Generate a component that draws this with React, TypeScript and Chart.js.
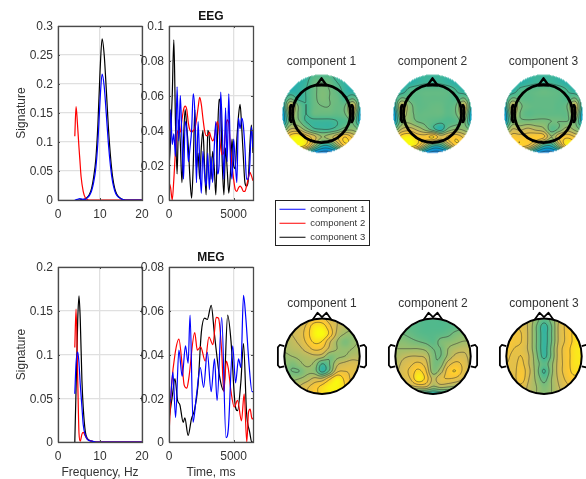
import React, { useEffect, useRef } from "react";
import { Chart, registerables } from "chart.js";

Chart.register(...registerables);

const FONT = "'Liberation Sans', Arial, sans-serif";
const TEXT = "#333333";
const componentNames = ["component 1", "component 2", "component 3"];
const lineColors = ["#0000ff", "#ff0000", "#000000"];

const freqEegHz = [4, 4.3, 4.6, 5, 5.2, 5.5, 6, 6.5, 7, 7.5, 8, 8.5, 9, 9.5, 10, 10.5, 11, 11.5, 12, 12.5, 13, 13.5, 14, 15, 16, 18, 20];
const eegFreqBlue = [0, 0.0005, 0.001, 0.002, 0.0025, 0.002, 0.001, 0.001, 0.004, 0.008, 0.016, 0.031, 0.055, 0.1, 0.17, 0.217, 0.196, 0.148, 0.097, 0.058, 0.031, 0.016, 0.008, 0.002, 0, 0, 0];
const eegFreqRed = [0.11, 0.161, 0.135, 0.09, 0.07, 0.04, 0.015, 0.004, 0.001, 0, 0, 0, 0, 0, 0, 0, 0, 0, 0, 0, 0, 0, 0, 0, 0, 0, 0];
const eegFreqBlack = [null, null, 0, 0, 0, 0.0005, 0.001, 0.002, 0.005, 0.01, 0.02, 0.04, 0.07, 0.13, 0.22, 0.278, 0.25, 0.19, 0.125, 0.075, 0.04, 0.02, 0.01, 0.002, 0, 0, 0];

const freqMegHz = [4, 4.3, 4.7, 5, 5.3, 5.7, 6, 6.5, 7, 8, 9, 10, 20];
const megFreqBlue = [0.055, 0.09, 0.103, 0.09, 0.066, 0.04, 0.02, 0.008, 0.003, 0.001, 0, 0, 0];
const megFreqRed = [0.108, 0.152, 0.07, 0.01, 0.001, 0.009, 0.011, 0.007, 0.003, 0.001, 0, 0, 0];
const megFreqBlack = [0, 0.06, 0.14, 0.167, 0.14, 0.07, 0.04, 0.012, 0.004, 0.001, 0, 0, 0];

const eegTimeMs = [0, 125, 250, 375, 500, 625, 750, 875, 1000, 1125, 1250, 1375, 1500, 1625, 1750, 1875, 2000, 2125, 2250, 2375, 2500, 2625, 2750, 2875, 3000, 3125, 3250, 3375, 3500, 3625, 3750, 3875, 4000, 4125, 4250, 4375, 4500, 4625, 4750, 4875, 5000, 5125, 5250, 5375, 5500, 5625, 5750, 5875, 6000, 6125, 6250, 6375, 6500];
const eegTimeBlue = [0.012, 0.052, 0.032, 0.038, 0.025, 0.065, 0.034, 0.06, 0.035, 0.012, 0.045, 0.04, 0.022, 0.03, 0.04, 0.061, 0.05, 0.01, 0.045, 0.022, 0.004, 0.028, 0.015, 0.008, 0.027, 0.006, 0.025, 0.01, 0.03, 0.045, 0.015, 0.02, 0.062, 0.04, 0.012, 0.053, 0.022, 0.061, 0.025, 0.012, 0.035, 0.022, 0.01, 0.047, 0.041, 0.047, 0.043, 0.03, 0.012, 0.012, 0.02, 0.042, 0.03];
const eegTimeRed = [0.01, 0.007, 0, 0.012, 0.028, 0.038, 0.04, 0.039, 0.046, 0.052, 0.054, 0.052, 0.044, 0.04, 0.039, 0.04, 0.041, 0.046, 0.053, 0.059, 0.055, 0.047, 0.04, 0.037, 0.037, 0.039, 0.036, 0.034, 0.036, 0.042, 0.045, 0.04, 0.03, 0.026, 0.028, 0.04, 0.046, 0.044, 0.03, 0.02, 0.012, 0.006, 0.005, 0.007, 0.008, 0.007, 0.005, 0.005, 0.008, 0.012, 0.016, 0.014, 0.011];
const eegTimeBlack = [0.018, 0.035, 0.06, 0.092, 0.045, 0.015, 0.046, 0.033, 0.01, 0.035, 0.052, 0.042, 0.03, 0.012, 0.001, 0.02, 0.052, 0.018, 0.027, 0.012, 0.03, 0.04, 0.02, 0.003, 0.04, 0.035, 0.012, 0.028, 0.019, 0.003, 0.035, 0.058, 0.052, 0.02, 0.003, 0.03, 0.018, 0.004, 0.015, 0.035, 0.02, 0.018, 0.035, 0.048, 0.055, 0.042, 0.025, 0.01, 0.008, 0.011, 0.03, 0.043, 0.027];

const megBlueMs = [0, 125, 300, 510, 765, 1020, 1275, 1480, 1630, 1860, 2120, 2420, 2680, 2960, 3265, 3520, 3720, 4080, 4410, 4590, 4930, 5150, 5380, 5560, 5765, 5940, 6200, 6430, 6500];
const megBlue = [0.017, 0.02, 0.032, 0.0112, 0.042, 0.03, 0.044, 0.036, 0.058, 0.009, 0.021, 0.034, 0.025, 0.041, 0.023, 0.038, 0.019, 0.057, 0.002, 0.006, 0.044, 0.027, 0.038, 0.034, 0.067, 0.057, 0.035, 0.023, 0.023];
const megRedMs = [0, 200, 460, 765, 1020, 1175, 1380, 1530, 1990, 2190, 2450, 2800, 3090, 3400, 3650, 3830, 4080, 4235, 4440, 4590, 4800, 5050, 5300, 5610, 5815, 6020, 6150, 6275, 6430, 6500];
const megRed = [0.0035, 0.026, 0.04, 0.047, 0.035, 0.026, 0.0246, 0.029, 0.05, 0.042, 0.0435, 0.037, 0.048, 0.0445, 0.057, 0.0566, 0.041, 0.023, 0.037, 0.0335, 0.023, 0.016, 0.019, 0.0097, 0.022, 0, 0.0135, 0.015, 0.0105, 0.011];
const megBlackMs = [0, 255, 460, 663, 840, 1100, 1225, 1480, 1735, 1990, 2245, 2500, 2755, 2960, 3265, 3520, 3900, 4235, 4540, 4800, 5100, 5300, 5560, 5765, 6000, 6250, 6400, 6500];
const megBlack = [0.0105, 0.021, 0.029, 0.019, 0.017, 0.009, 0.011, 0.003, 0.0105, 0.015, 0.026, 0.05, 0.0566, 0.056, 0.0625, 0.049, 0.0305, 0.0235, 0.058, 0.046, 0.018, 0.0143, 0.0274, 0.045, 0.0135, 0.0043, 0, 0];

const freqTicksX = [0, 10, 20];
const timeTicksX = [0, 5000];
const eegFreqTicksY = [0, 0.05, 0.1, 0.15, 0.2, 0.25, 0.3];
const eegTimeTicksY = [0, 0.02, 0.04, 0.06, 0.08, 0.1];
const megFreqTicksY = [0, 0.05, 0.1, 0.15, 0.2];
const megTimeTicksY = [0, 0.02, 0.04, 0.06, 0.08];

// Scalp fields, percent of the colour range; rows run front to back, columns left to right.
const eegMap1 = [
  [45, 45, 45, 46, 52, 52, 52, 46, 45, 45, 45],
  [44, 44, 45, 48, 56, 58, 56, 50, 46, 44, 44],
  [44, 44, 46, 50, 56, 60, 58, 54, 47, 44, 44],
  [44, 56, 48, 50, 56, 60, 58, 56, 50, 56, 44],
  [42, 76, 58, 50, 56, 58, 58, 56, 58, 76, 42],
  [34, 70, 58, 50, 56, 56, 56, 55, 58, 70, 34],
  [38, 62, 60, 50, 48, 48, 48, 50, 52, 58, 38],
  [55, 74, 74, 62, 52, 50, 50, 54, 62, 64, 55],
  [75, 94, 100, 88, 78, 66, 70, 80, 90, 80, 72],
  [80, 96, 100, 90, 66, 46, 46, 66, 86, 84, 75],
  [60, 65, 60, 50, 30, 24, 24, 30, 50, 60, 60],
];
const eegMap2 = [
  [45, 45, 45, 46, 48, 48, 48, 46, 45, 45, 45],
  [45, 45, 45, 47, 49, 49, 49, 47, 45, 45, 45],
  [44, 45, 52, 54, 55, 55, 55, 54, 50, 45, 44],
  [44, 58, 55, 54, 55, 55, 55, 54, 52, 58, 44],
  [42, 76, 62, 55, 55, 56, 56, 54, 58, 76, 42],
  [34, 70, 62, 56, 56, 56, 56, 54, 58, 70, 34],
  [38, 62, 64, 58, 56, 54, 52, 52, 54, 60, 38],
  [55, 74, 78, 72, 64, 54, 46, 60, 66, 64, 55],
  [75, 94, 98, 88, 86, 92, 78, 84, 88, 80, 72],
  [80, 96, 98, 90, 68, 48, 48, 68, 86, 84, 75],
  [60, 65, 60, 50, 30, 24, 24, 30, 50, 60, 60],
];
const eegMap3 = [
  [45, 45, 45, 46, 48, 48, 48, 46, 45, 45, 45],
  [45, 45, 45, 47, 49, 49, 49, 47, 45, 45, 45],
  [44, 45, 52, 54, 55, 56, 55, 54, 50, 45, 44],
  [44, 58, 55, 54, 55, 55, 55, 54, 52, 58, 44],
  [42, 76, 60, 56, 55, 55, 55, 54, 58, 76, 42],
  [34, 70, 58, 54, 55, 55, 55, 55, 56, 70, 34],
  [38, 62, 60, 60, 60, 60, 58, 58, 58, 60, 38],
  [55, 74, 72, 76, 72, 68, 54, 60, 70, 64, 55],
  [75, 86, 86, 86, 88, 84, 66, 82, 88, 82, 72],
  [78, 86, 88, 84, 68, 48, 46, 70, 96, 88, 75],
  [60, 65, 60, 50, 30, 24, 24, 30, 50, 60, 60],
];
const megMap1 = [
  [72, 72, 72, 78, 84, 84, 78, 74, 72, 72, 72],
  [74, 74, 76, 84, 95, 95, 84, 74, 70, 70, 70],
  [72, 74, 78, 86, 98, 100, 88, 72, 66, 64, 66],
  [70, 72, 76, 84, 92, 90, 76, 66, 60, 64, 66],
  [68, 70, 72, 78, 84, 82, 72, 66, 64, 66, 68],
  [64, 66, 68, 70, 72, 70, 60, 64, 66, 70, 70],
  [64, 60, 64, 68, 64, 50, 58, 72, 76, 78, 76],
  [60, 58, 58, 64, 62, 48, 60, 80, 82, 80, 76],
  [62, 64, 66, 70, 76, 76, 88, 98, 88, 80, 76],
  [68, 70, 74, 80, 86, 92, 98, 98, 90, 82, 76],
  [74, 74, 76, 82, 88, 92, 95, 95, 88, 82, 76],
];
const megMap2 = [
  [56, 54, 53, 53, 52, 52, 52, 53, 53, 54, 56],
  [58, 56, 54, 53, 52, 52, 52, 53, 54, 56, 58],
  [60, 58, 56, 54, 53, 53, 54, 56, 60, 62, 62],
  [62, 62, 60, 58, 56, 54, 60, 62, 64, 66, 66],
  [66, 66, 66, 66, 64, 58, 58, 66, 70, 72, 72],
  [68, 72, 74, 74, 72, 60, 58, 68, 76, 76, 72],
  [70, 76, 80, 84, 78, 60, 62, 78, 84, 80, 72],
  [72, 78, 84, 92, 84, 62, 70, 86, 90, 80, 72],
  [70, 76, 82, 96, 88, 72, 80, 82, 80, 74, 70],
  [66, 70, 72, 76, 76, 66, 70, 68, 66, 66, 66],
  [56, 56, 54, 48, 44, 42, 44, 46, 52, 56, 56],
];
const megMap3 = [
  [76, 80, 80, 72, 62, 54, 62, 74, 84, 88, 88],
  [80, 82, 80, 72, 58, 47, 58, 76, 84, 90, 92],
  [84, 84, 82, 72, 58, 47, 58, 76, 84, 92, 94],
  [88, 84, 82, 72, 58, 47, 58, 76, 84, 92, 96],
  [86, 82, 80, 72, 58, 47, 60, 78, 86, 94, 96],
  [84, 80, 82, 74, 60, 48, 60, 78, 86, 94, 96],
  [82, 80, 84, 74, 62, 54, 64, 78, 86, 94, 94],
  [80, 80, 86, 76, 62, 49, 64, 78, 86, 92, 90],
  [80, 80, 86, 74, 64, 55, 66, 76, 84, 88, 86],
  [78, 78, 80, 72, 66, 60, 66, 74, 80, 84, 82],
  [76, 76, 76, 72, 66, 62, 66, 72, 76, 80, 80],
];

const contourLevels = [26, 34, 42, 50, 58, 66, 74, 82, 90];
const parula: [number, number, number][] = [
  [53, 42, 135], [15, 92, 221], [20, 129, 214], [6, 164, 202], [70, 184, 145],
  [140, 190, 115], [209, 187, 89], [254, 200, 50], [249, 251, 14],
];

function colourOf(v: number) {
  const t = Math.min(1, Math.max(0, v / 100)) * (parula.length - 1);
  const i = Math.min(parula.length - 2, Math.floor(t));
  const f = t - i;
  return parula[i].map((c, k) => c + (parula[i + 1][k] - c) * f);
}

function catmull(a: number, b: number, c: number, d: number, t: number) {
  return b + 0.5 * t * (c - a + t * (2 * a - 5 * b + 4 * c - d + t * (3 * (b - c) + d - a)));
}

function sampleField(m: number[][], x: number, y: number) {
  const n = m.length - 1;
  const cf = Math.min(n - 1e-6, Math.max(0, ((x + 1) / 2) * n));
  const rf = Math.min(n - 1e-6, Math.max(0, ((1 - y) / 2) * n));
  const c = Math.floor(cf);
  const r = Math.floor(rf);
  const rowAt = (ri: number) => {
    const row = m[Math.min(n, Math.max(0, ri))];
    const at = (k: number) => row[Math.min(n, Math.max(0, k))];
    return catmull(at(c - 1), at(c), at(c + 1), at(c + 2), cf - c);
  };
  return catmull(rowAt(r - 1), rowAt(r), rowAt(r + 1), rowAt(r + 2), rf - r);
}

const axesPlugin = {
  id: "matlabBox",
  afterDraw(chart: any) {
    const { ctx, chartArea: a, scales } = chart;
    ctx.save();
    ctx.strokeStyle = "#4a4a4a";
    ctx.lineWidth = 1;
    ctx.beginPath();
    scales.x.ticks.forEach((t: any) => {
      const p = Math.round(scales.x.getPixelForValue(t.value)) + 0.5;
      ctx.moveTo(p, a.bottom);
      ctx.lineTo(p, a.bottom - 2);
      ctx.moveTo(p, a.top);
      ctx.lineTo(p, a.top + 2);
    });
    scales.y.ticks.forEach((t: any) => {
      const p = Math.round(scales.y.getPixelForValue(t.value)) + 0.5;
      ctx.moveTo(a.left, p);
      ctx.lineTo(a.left + 2, p);
      ctx.moveTo(a.right, p);
      ctx.lineTo(a.right - 2, p);
    });
    ctx.stroke();
    ctx.lineWidth = 1.3;
    ctx.strokeRect(a.left + 0.5, a.top + 0.5, a.right - a.left, a.bottom - a.top);
    ctx.restore();
  },
};

function LinePanel(props: any) {
  const ref = useRef<HTMLCanvasElement>(null);
  const { left, top, width, height, series, xMax, xTicks, yMax, yTicks, yTitle, xTitle, title, axisLeft, padTop, axisBottom } = props;
  useEffect(() => {
    const datasets = series.map((s: any, i: number) => ({
      label: componentNames[i],
      data: s.x.map((x: number, k: number) => ({ x, y: s.y[k] })),
      borderColor: lineColors[i],
      borderWidth: 1.2,
      pointRadius: 0,
      cubicInterpolationMode: "monotone",
      fill: false,
    }));
    const chart = new Chart(ref.current as any, {
      type: "line",
      data: { datasets },
      plugins: [axesPlugin],
      options: {
        animation: false,
        responsive: false,
        devicePixelRatio: 1,
        layout: { padding: { top: title ? 0 : padTop, right: props.padRight, left: 0, bottom: 0 }, autoPadding: false },
        plugins: {
          legend: { display: false },
          tooltip: { enabled: false },
          title: title
            ? { display: true, fullSize: false, text: title, color: "#111", font: { family: FONT, size: 12, weight: "bold" }, padding: { top: padTop - 14.4 - 2, bottom: 2 } }
            : { display: false },
        },
        scales: {
          x: {
            type: "linear",
            min: 0,
            max: xMax,
            afterBuildTicks: (s: any) => { s.ticks = xTicks.map((value: number) => ({ value })); },
            afterFit: (s: any) => { s.height = axisBottom; },
            grid: { color: "#e0e0e0", lineWidth: 1.3, drawTicks: false },
            border: { display: false },
            ticks: { color: TEXT, font: { family: FONT, size: 12 }, padding: 7, maxRotation: 0, autoSkip: false, callback: (v: any) => String(v) },
            title: xTitle ? { display: true, text: xTitle, color: TEXT, font: { family: FONT, size: 12 }, padding: { top: 3, bottom: -1 } } : { display: false },
          },
          y: {
            min: 0,
            max: yMax,
            afterBuildTicks: (s: any) => { s.ticks = yTicks.map((value: number) => ({ value })); },
            afterFit: (s: any) => { s.width = axisLeft; },
            grid: { color: "#e0e0e0", lineWidth: 1.3, drawTicks: false },
            border: { display: false },
            ticks: { color: TEXT, font: { family: FONT, size: 12 }, padding: 5, labelOffset: 1, autoSkip: false, callback: (v: any) => String(+Number(v).toFixed(3)) },
            title: yTitle ? { display: true, text: yTitle, color: TEXT, font: { family: FONT, size: 12 }, padding: { top: 14, bottom: 0 } } : { display: false },
          },
        },
      } as any,
    } as any);
    return () => chart.destroy();
  }, []);
  return <canvas ref={ref} width={width} height={height} style={{ position: "absolute", left, top, width, height }} />;
}

function makeFieldPlugin(style: any) {
  return {
    id: "scalpField",
    beforeDatasetsDraw(chart: any) {
      const { ctx, chartArea: a, scales } = chart;
      const { x: sx, y: sy } = scales;
      const cells = chart.data.datasets[0].data;
      const size = Math.round(Math.sqrt(cells.length));
      const matrix: number[][] = [];
      for (let r = 0; r < size; r++) matrix.push(cells.slice(r * size, (r + 1) * size).map((c: any) => c.v));
      const W = Math.ceil(a.right - a.left);
      const H = Math.ceil(a.bottom - a.top);
      const off = document.createElement("canvas");
      off.width = W;
      off.height = H;
      const octx = off.getContext("2d") as CanvasRenderingContext2D;
      const img = octx.createImageData(W, H);
      const grid = new Float32Array((W + 1) * (H + 1));
      for (let j = 0; j <= H; j++) {
        for (let i = 0; i <= W; i++) {
          const dx = sx.getValueForPixel(a.left + i);
          const dy = sy.getValueForPixel(a.top + j);
          const v = sampleField(matrix, dx, dy);
          grid[j * (W + 1) + i] = v;
          if (i < W && j < H) {
            const ex = sx.getValueForPixel(a.left + i + 0.5);
            const ey = sy.getValueForPixel(a.top + j + 0.5);
            const d = Math.hypot(ex, ey);
            if (d <= 1.01) {
              const col = colourOf(v);
              const o = 4 * (j * W + i);
              img.data[o] = col[0];
              img.data[o + 1] = col[1];
              img.data[o + 2] = col[2];
              img.data[o + 3] = d > 0.99 ? 130 : 255;
            }
          }
        }
      }
      octx.putImageData(img, 0, 0);
      ctx.save();
      ctx.drawImage(off, a.left, a.top);
      const cx = sx.getPixelForValue(0);
      const cy = sy.getPixelForValue(0);
      const R = sx.getPixelForValue(1) - cx;
      ctx.beginPath();
      ctx.arc(cx, cy, R, 0, Math.PI * 2);
      ctx.clip();
      ctx.strokeStyle = "rgba(45,45,45,0.7)";
      ctx.lineWidth = 0.7;
      ctx.beginPath();
      const at = (i: number, j: number) => grid[j * (W + 1) + i];
      contourLevels.forEach((lv) => {
        for (let j = 0; j < H; j++) {
          for (let i = 0; i < W; i++) {
            const q = [at(i, j), at(i + 1, j), at(i + 1, j + 1), at(i, j + 1)];
            const corner = [[i, j], [i + 1, j], [i + 1, j + 1], [i, j + 1]];
            const pts: number[][] = [];
            for (let e = 0; e < 4; e++) {
              const p = q[e];
              const n = q[(e + 1) % 4];
              if ((p < lv) !== (n < lv)) {
                const f = (lv - p) / (n - p);
                const c0 = corner[e];
                const c1 = corner[(e + 1) % 4];
                pts.push([a.left + c0[0] + (c1[0] - c0[0]) * f, a.top + c0[1] + (c1[1] - c0[1]) * f]);
              }
            }
            if (pts.length >= 2) {
              ctx.moveTo(pts[0][0], pts[0][1]);
              ctx.lineTo(pts[1][0], pts[1][1]);
            }
            if (pts.length === 4) {
              ctx.moveTo(pts[2][0], pts[2][1]);
              ctx.lineTo(pts[3][0], pts[3][1]);
            }
          }
        }
      });
      ctx.stroke();
      ctx.restore();
    },
    afterDatasetsDraw(chart: any) {
      const { ctx, scales } = chart;
      const { x: sx, y: sy } = scales;
      const r = style.headRadius;
      const px = (u: number) => sx.getPixelForValue(u * r);
      const py = (v: number) => sy.getPixelForValue(v * r);
      ctx.save();
      ctx.strokeStyle = "#000";
      ctx.lineJoin = "round";
      ctx.lineWidth = style.headWidth;
      ctx.beginPath();
      ctx.arc(px(0), py(0), px(1) - px(0), 0, Math.PI * 2);
      ctx.stroke();
      ctx.lineWidth = style.noseWidth;
      ctx.beginPath();
      style.nose.forEach((p: number[], i: number) => {
        if (i === 0) ctx.moveTo(px(p[0]), py(p[1]));
        else ctx.lineTo(px(p[0]), py(p[1]));
      });
      if (style.noseClosed) ctx.closePath();
      ctx.stroke();
      ctx.lineWidth = style.earWidth;
      [-1, 1].forEach((side) => {
        ctx.beginPath();
        style.ear.forEach((p: number[], i: number) => {
          const X = px(side * p[0]);
          const Y = py(p[1]);
          if (i === 0) ctx.moveTo(X, Y);
          else ctx.lineTo(X, Y);
        });
        ctx.stroke();
      });
      ctx.restore();
    },
  };
}

const eegHead = {
  headRadius: 0.74,
  headWidth: 2.8,
  noseWidth: 2.4,
  earWidth: 3,
  noseClosed: true,
  nose: [[-0.17, 0.98], [0, 1.22], [0.17, 0.98]],
  ear: [[1.0, 0.27], [1.05, 0.28], [1.08, 0.2], [1.08, -0.2], [1.05, -0.28], [1.0, -0.27]],
};
const megHead = {
  headRadius: 1,
  headWidth: 2,
  noseWidth: 1.7,
  earWidth: 1.8,
  noseClosed: false,
  nose: [[-0.25, 0.97], [-0.12, 1.16], [0, 1.04], [0.12, 1.16], [0.25, 0.97]],
  ear: [[1.0, 0.27], [1.12, 0.3], [1.17, 0.24], [1.17, -0.24], [1.12, -0.3], [1.0, -0.27]],
};

function MapPanel(props: any) {
  const ref = useRef<HTMLCanvasElement>(null);
  const { cx, titleY, matrix, title, range, areaHalf, gap, head } = props;
  const side = Math.round(areaHalf * 2);
  const height = side + 14.4 + gap;
  useEffect(() => {
    const cells: any[] = [];
    const n = matrix.length - 1;
    matrix.forEach((row: number[], r: number) =>
      row.forEach((v: number, c: number) => cells.push({ x: (c / n) * 2 - 1, y: 1 - (r / n) * 2, v }))
    );
    const chart = new Chart(ref.current as any, {
      type: "scatter",
      data: { datasets: [{ data: cells, pointRadius: 0, showLine: false }] },
      plugins: [makeFieldPlugin(head)],
      options: {
        animation: false,
        responsive: false,
        devicePixelRatio: 1,
        layout: { padding: 0, autoPadding: false },
        plugins: {
          legend: { display: false },
          tooltip: { enabled: false },
          title: { display: true, text: title, color: TEXT, font: { family: FONT, size: 12, weight: "normal" }, padding: { top: 0, bottom: gap } },
        },
        scales: {
          x: { type: "linear", min: -range, max: range, display: false },
          y: { type: "linear", min: -range, max: range, display: false },
        },
      } as any,
    } as any);
    return () => chart.destroy();
  }, []);
  return (
    <canvas
      ref={ref}
      width={side}
      height={Math.round(height)}
      style={{ position: "absolute", left: cx - side / 2, top: titleY - 7.2, width: side, height: Math.round(height) }}
    />
  );
}

const legendBoxPlugin = {
  id: "legendBox",
  afterDraw(chart: any) {
    const { ctx, width } = chart;
    ctx.save();
    ctx.strokeStyle = "#222";
    ctx.lineWidth = 1;
    ctx.strokeRect(0.5, 0.5, width - 1, 45);
    ctx.restore();
  },
};

function LegendPanel() {
  const ref = useRef<HTMLCanvasElement>(null);
  useEffect(() => {
    const chart = new Chart(ref.current as any, {
      type: "line",
      data: { datasets: componentNames.map((label, i) => ({ label, data: [], borderColor: lineColors[i], backgroundColor: lineColors[i], borderWidth: 1 })) },
      plugins: [legendBoxPlugin],
      options: {
        animation: false,
        responsive: false,
        devicePixelRatio: 1,
        layout: { padding: 0, autoPadding: false },
        plugins: {
          tooltip: { enabled: false },
          legend: {
            display: true,
            position: "top",
            align: "start",
            labels: {
              usePointStyle: true,
              pointStyle: "line",
              pointStyleWidth: 26,
              boxHeight: 9,
              padding: 4.5,
              color: TEXT,
              font: { family: FONT, size: 9.5 },
            },
          },
        },
        scales: { x: { display: false }, y: { display: false } },
      } as any,
    } as any);
    return () => chart.destroy();
  }, []);
  return <canvas ref={ref} width={95} height={96} style={{ position: "absolute", left: 275, top: 200, width: 95, height: 96 }} />;
}

export default function App() {
  return (
    <div>
      <LinePanel
        left={0} top={0} width={156} height={220} axisLeft={58} padRight={14} padTop={26} axisBottom={20}
        xMax={20} xTicks={freqTicksX} yMax={0.3} yTicks={eegFreqTicksY} yTitle="Signature"
        series={[{ x: freqEegHz, y: eegFreqBlue }, { x: freqEegHz, y: eegFreqRed }, { x: freqEegHz, y: eegFreqBlack }]}
      />
      <LinePanel
        left={119} top={0} width={146} height={220} axisLeft={50} padRight={12} padTop={26} axisBottom={20}
        xMax={6500} xTicks={timeTicksX} yMax={0.1} yTicks={eegTimeTicksY} title="EEG"
        series={[{ x: eegTimeMs, y: eegTimeBlue }, { x: eegTimeMs, y: eegTimeRed }, { x: eegTimeMs, y: eegTimeBlack }]}
      />
      <LinePanel
        left={0} top={240} width={156} height={239} axisLeft={58} padRight={14} padTop={27} axisBottom={37}
        xMax={20} xTicks={freqTicksX} yMax={0.2} yTicks={megFreqTicksY} yTitle="Signature" xTitle="Frequency, Hz"
        series={[{ x: freqMegHz, y: megFreqBlue }, { x: freqMegHz, y: megFreqRed }, { x: freqMegHz, y: megFreqBlack }]}
      />
      <LinePanel
        left={119} top={240} width={146} height={239} axisLeft={50} padRight={12} padTop={27} axisBottom={37}
        xMax={6500} xTicks={timeTicksX} yMax={0.08} yTicks={megTimeTicksY} title="MEG" xTitle="Time, ms"
        series={[{ x: megBlueMs, y: megBlue }, { x: megRedMs, y: megRed }, { x: megBlackMs, y: megBlack }]}
      />
      {[eegMap1, eegMap2, eegMap3].map((m, i) => (
        <MapPanel key={i} cx={[321, 432.5, 543.5][i]} titleY={61} matrix={m} title={componentNames[i]} range={1.06} areaHalf={41.7} gap={3.8} head={eegHead} />
      ))}
      {[megMap1, megMap2, megMap3].map((m, i) => (
        <MapPanel key={i} cx={[322, 432.5, 543.5][i]} titleY={303} matrix={m} title={componentNames[i]} range={1.22} areaHalf={45.75} gap={0.05} head={megHead} />
      ))}
      <LegendPanel />
    </div>
  );
}
